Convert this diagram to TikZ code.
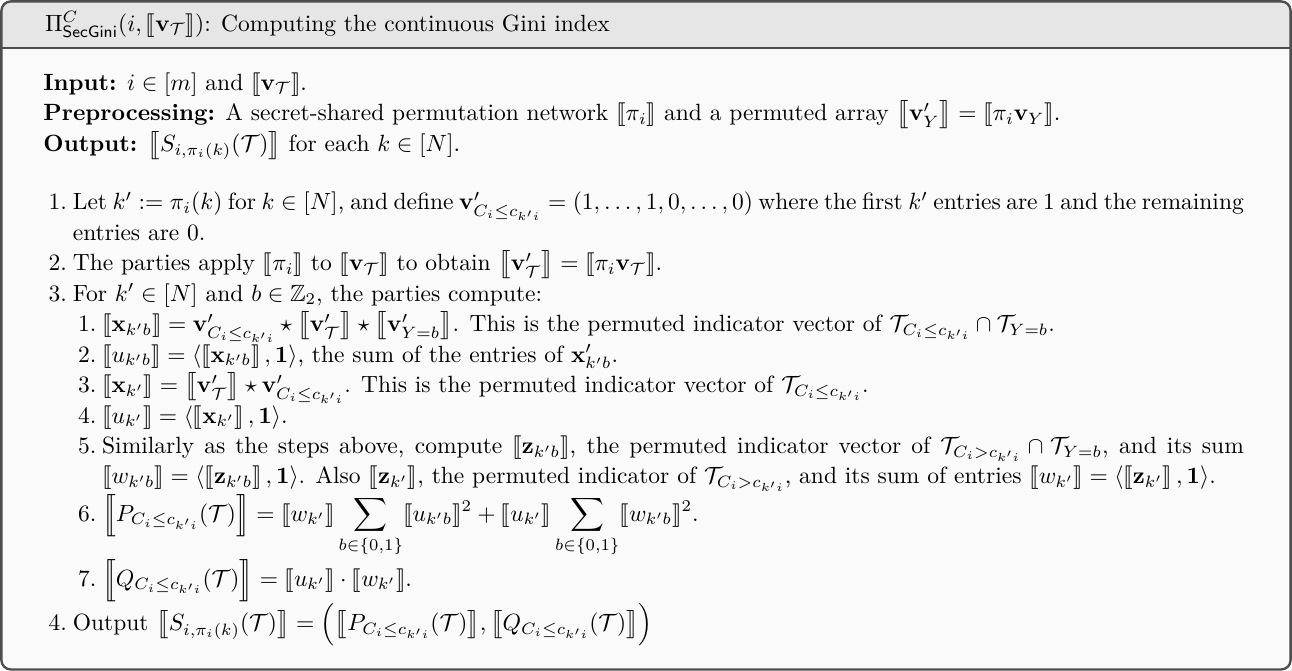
\documentclass[tikz,border=0pt]{standalone}
\usepackage{amsmath,amssymb,stmaryrd}
\usepackage{enumitem}
\definecolor{frameC}{HTML}{4D4D4D}
\definecolor{titleC}{HTML}{E6E6E6}
\definecolor{bodyC}{HTML}{FAFAFA}
\tikzset{
  framebox/.style={draw=frameC, line width=1pt, rounded corners=4pt},
  titletext/.style={anchor=base west, inner sep=0pt},
  bodytext/.style={anchor=base west, inner sep=0pt}
}
\newcommand{\lb}{\llbracket}
\newcommand{\rb}{\rrbracket}
\newcommand{\Lb}{\bigl\llbracket}
\newcommand{\Rb}{\bigr\rrbracket}
\newcommand{\cT}{\mathcal{T}}
\newcommand{\cle}{C_i\le c_{k'i}}
\newcommand{\cgt}{C_i> c_{k'i}}
\begin{document}
\begin{tikzpicture}[x=1pt,y=1pt]
\def\W{550}
\def\H{285.6}
\def\TH{20.3}
\useasboundingbox (0,0) rectangle (\W,-\H);
\begin{scope}
  \clip[rounded corners=4pt] (0.5,-0.5) rectangle (\W-0.5,-\H+0.5);
  \fill[bodyC] (0,0) rectangle (\W,-\H);
  \fill[titleC] (0,0) rectangle (\W,-\TH);
\end{scope}
\draw[framebox] (0.6,-0.6) rectangle (\W-0.6,-\H+0.6);
\draw[draw=frameC, line width=1pt] (0.6,-\TH) -- (\W-0.6,-\TH);
\node[titletext] (title) at (19,-13.2) {$\Pi^{C}_{\mathsf{SecGini}}(i, \lb \mathbf{v}_{\cT} \rb)$: Computing the continuous Gini index};
\node[bodytext] (body) at (18.3,-38.5) {\begin{minipage}[t]{511pt}
\linespread{1.08}\selectfont
\setlength{\parindent}{0pt}
\textbf{Input:} $i \in [m]$ and $\lb \mathbf{v}_{\cT} \rb$.\\
\textbf{Preprocessing:} A secret-shared permutation network $\lb\pi_i\rb$ and a permuted array $\Lb \mathbf{v}'_Y\Rb = \lb \pi_i \mathbf{v}_Y\rb$.\\
\textbf{Output:} $\Lb S_{i,\pi_i(k)}(\cT)\Rb$ for each $k\in[N]$.
\begin{enumerate}[label=\arabic*.,leftmargin=12.5pt,labelsep=2.5pt,itemsep=0pt,parsep=0pt,topsep=12pt]
\item Let $k' := \pi_i(k)$ for $k\in[N]$, and define $\mathbf{v}'_{\cle} = (1,\dots,1,0,\dots,0)$ where the first $k'$ entries are 1 and the remaining\linebreak entries are 0.
\item The parties apply $\lb\pi_i\rb$ to $\lb\mathbf{v}_{\cT}\rb$ to obtain $\Lb\mathbf{v}'_{\cT}\Rb = \lb\pi_i\mathbf{v}_{\cT}\rb$.
\item For $k'\in[N]$ and $b\in\mathbb{Z}_2$, the parties compute:
\begin{enumerate}[label=\arabic*.,leftmargin=12.5pt,labelsep=2.5pt,itemsep=0pt,parsep=0pt,topsep=0pt]
\item $\lb \mathbf{x}_{k'b}\rb = \mathbf{v}'_{\cle} \star \Lb\mathbf{v}'_{\cT}\Rb \star \Lb \mathbf{v}'_{Y=b}\Rb$. This is the permuted indicator vector of $\cT_{\cle} \cap \cT_{Y=b}$.
\item $\lb u_{k'b}\rb = \langle \left\lb\mathbf{x}_{k'b}\right\rb, \mathbf{1}\rangle$, the sum of the entries of $\mathbf{x}'_{k'b}$.
\item $\lb\mathbf{x}_{k'}\rb = \Lb\mathbf{v}'_{\cT}\Rb \star \mathbf{v}'_{\cle}$. This is the permuted indicator vector of $\cT_{\cle}$.
\item $\lb u_{k'}\rb = \langle\left\lb\mathbf{x}_{k'}\right\rb,\mathbf{1}\rangle$.
\item Similarly as the steps above, compute $\lb\mathbf{z}_{k'b}\rb$, the permuted indicator vector of $\cT_{\cgt}\cap\cT_{Y=b}$, and its sum $\lb w_{k'b}\rb = \langle\left\lb\mathbf{z}_{k'b}\right\rb,\mathbf{1}\rangle$. Also $\lb\mathbf{z}_{k'}\rb$, the permuted indicator of $\cT_{\cgt}$, and its sum of entries $\lb w_{k'}\rb = \langle\left\lb\mathbf{z}_{k'}\right\rb,\mathbf{1}\rangle$.
\item $\Bigl\lb P_{\cle}(\cT)\Bigr\rb = \lb w_{k'}\rb \displaystyle\sum_{b\in\{0,1\}} \lb u_{k'b}\rb^2 + \lb u_{k'}\rb \sum_{b\in\{0,1\}} \lb w_{k'b}\rb^2$.
\item $\Bigl\lb Q_{\cle}(\cT)\Bigr\rb = \left\lb u_{k'}\right\rb\cdot\left\lb w_{k'}\right\rb$.
\end{enumerate}
\item Output $\Lb S_{i,\pi_i(k)}(\cT)\Rb = \Bigl(\Lb P_{\cle}(\cT)\Rb, \Lb Q_{\cle}(\cT)\Rb\Bigr)$
\end{enumerate}
\end{minipage}};
\end{tikzpicture}
\end{document}
